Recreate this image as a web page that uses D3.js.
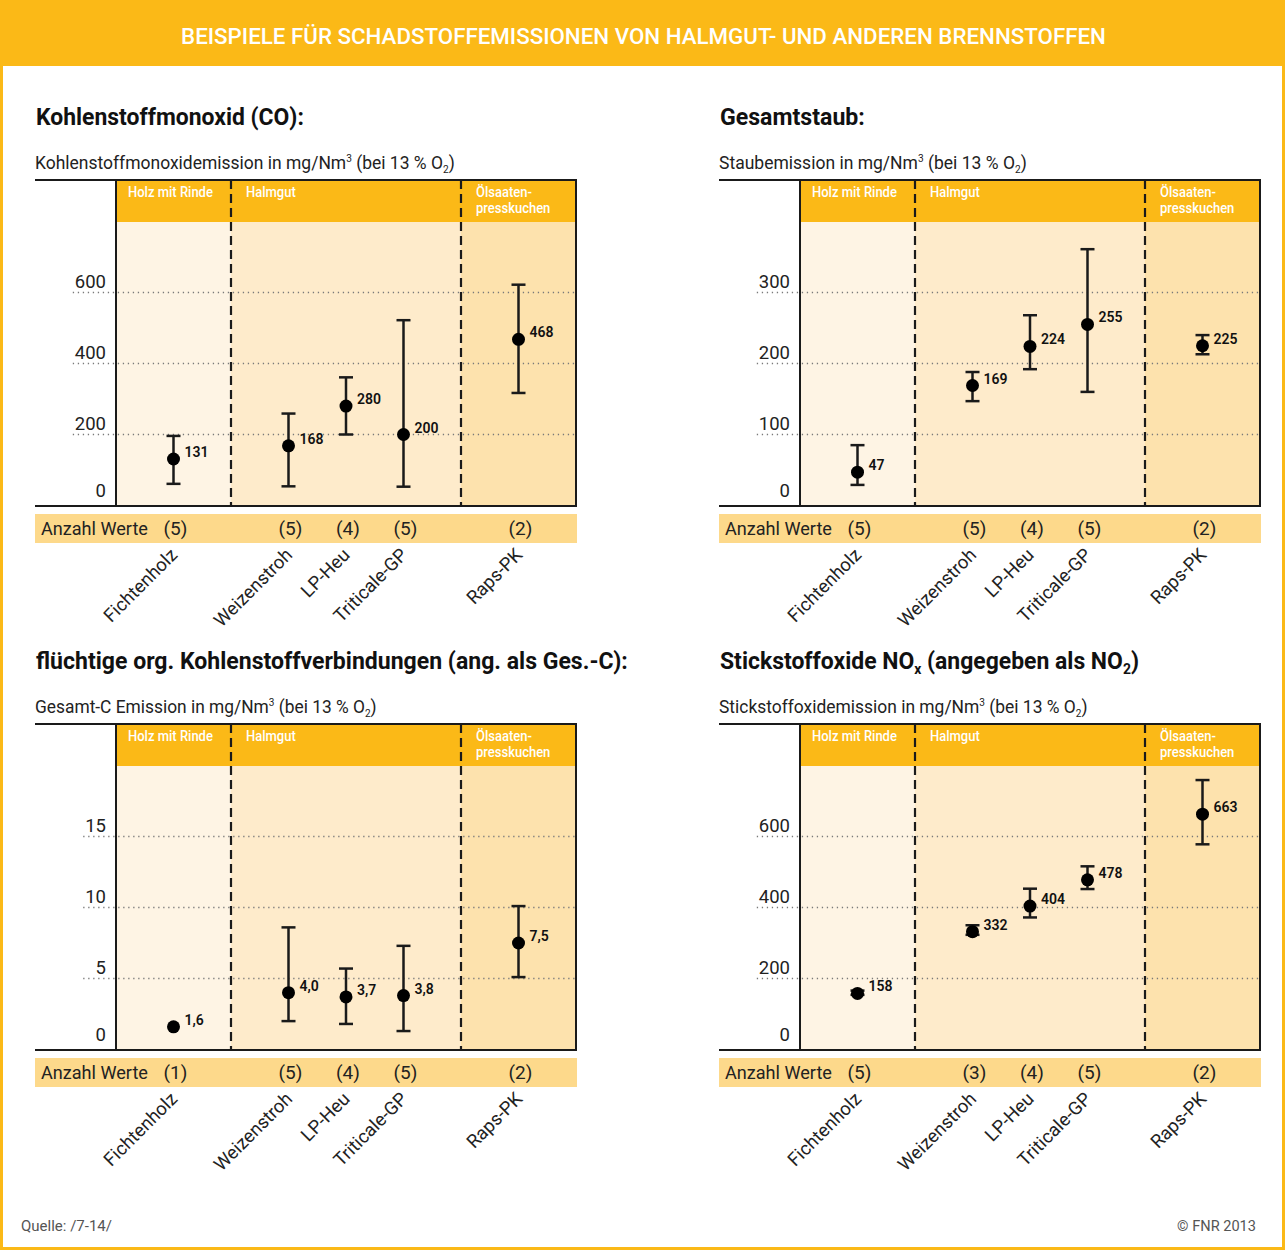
<!DOCTYPE html>
<html><head><meta charset="utf-8">
<script src="https://cdn.jsdelivr.net/npm/d3@7/dist/d3.min.js"></script>
<style>
html,body{margin:0;padding:0;background:#fff}
svg{display:block;font-family:Roboto,"Open Sans",sans-serif}
</style></head>
<body>
<svg id="chart" width="1285" height="1250"></svg>
<script>
// ---------- DATA ----------
const categories = ["Fichtenholz","Weizenstroh","LP-Heu","Triticale-GP","Raps-PK"];
const groupNames = [["Holz mit Rinde"],["Halmgut"],["Ölsaaten-","presskuchen"]];
const categoryGroup = [0,1,1,1,2];

const coMean = [131,168,280,200,468];
const coLow  = [61,54,200,53,317];
const coHigh = [196,259,361,522,622];
const coN    = [5,5,4,5,2];
const coTicks = [0,200,400,600];

const staubMean = [47,169,224,255,225];
const staubLow  = [29,147,192,160,213];
const staubHigh = [85,188,268,361,240];
const staubN    = [5,5,4,5,2];
const staubTicks = [0,100,200,300];

const gescMean = [1.6,4.0,3.7,3.8,7.5];
const gescLow  = [null,2.0,1.8,1.3,5.1];
const gescHigh = [null,8.6,5.7,7.3,10.1];
const gescN    = [1,5,4,5,2];
const gescTicks = [0,5,10,15];

const noxMean = [158,332,404,478,663];
const noxLow  = [154,323,372,452,578];
const noxHigh = [166,350,453,516,759];
const noxN    = [5,3,4,5,2];
const noxTicks = [0,200,400,600];

const mainTitle = "BEISPIELE FÜR SCHADSTOFFEMISSIONEN VON HALMGUT- UND ANDEREN BRENNSTOFFEN";
const countLabel = "Anzahl Werte";
const sourceText = "Quelle: /7-14/";
const copyrightText = "© FNR 2013";

// ---------- STYLE / LAYOUT ----------
const C = {
  orange:"#FBB917", holz:"#FEF4E4", halm:"#FEEBCB", oel:"#FDE2AD", count:"#FDD98B",
  ink:"#1a1a1a", grid:"#7a7a7a", text:"#222"
};
const L = {frameL:35, plotL:116, plotR:576, frameR:577, top:180, headB:222, axisY:506,
           countTop:514, countH:29, titleY:125, subY:169};

const de = d3.formatLocale({decimal:",", thousands:".", grouping:[3], currency:["","€"]});
const fInt = de.format("d"), fDec = de.format(".1f");

const panels = [
  {dx:0, dy:0, max:800, mean:coMean, low:coLow, high:coHigh, n:coN, ticks:coTicks, fmt:fInt,
   title:[["Kohlenstoffmonoxid (CO):"]], titleW:268,
   sub:"Kohlenstoffmonoxidemission", subW:420},
  {dx:684, dy:0, max:400, mean:staubMean, low:staubLow, high:staubHigh, n:staubN, ticks:staubTicks, fmt:fInt,
   title:[["Gesamtstaub:"]], titleW:145,
   sub:"Staubemission", subW:308},
  {dx:0, dy:544, max:20, mean:gescMean, low:gescLow, high:gescHigh, n:gescN, ticks:gescTicks, fmt:fDec,
   title:[["flüchtige org. Kohlenstoffverbindungen (ang. als Ges.-C):"]], titleW:592,
   sub:"Gesamt-C Emission", subW:342},
  {dx:684, dy:544, max:800, mean:noxMean, low:noxLow, high:noxHigh, n:noxN, ticks:noxTicks, fmt:fInt,
   title:[["Stickstoffoxide NO"],["x","sub"],[" (angegeben als NO"],["2","sub"],[")"]], titleW:419,
   sub:"Stickstoffoxidemission", subW:369}
];

const svg = d3.select("#chart");

// helper: text in a group, optionally squeezed horizontally to a target width
function placeText(parent, x, y, anchor, parts, opts){
  const g = parent.append("g").attr("transform",`translate(${x},${y})`);
  const t = g.append("text").attr("text-anchor",anchor)
    .attr("font-size",opts.size).attr("font-weight",opts.weight||400).attr("fill",opts.fill||C.text);
  const base = opts.size, small = Math.round(opts.size*0.6);
  let shift = 0;
  parts.forEach(([s,kind])=>{
    const target = kind==="sup" ? -Math.round(base*0.38) : kind==="sub" ? Math.round(base*0.22) : 0;
    const ts = t.append("tspan").attr("dy", target - shift).text(s);
    if(kind) ts.attr("font-size", small);
    shift = target;
  });
  if(opts.width){
    const w = t.node().getBBox().width;
    if(w>0) g.attr("transform",`translate(${x},${y}) scale(${opts.width/w},1)`);
  }
  return g;
}

// ---------- PAGE FRAME ----------
svg.append("rect").attr("x",1.5).attr("y",1.5).attr("width",1282).attr("height",1247)
  .attr("fill","#fff").attr("stroke",C.orange).attr("stroke-width",3);
svg.append("rect").attr("x",0).attr("y",0).attr("width",1285).attr("height",66).attr("fill",C.orange);
placeText(svg, 643.5, 44, "middle", [[mainTitle]], {size:22, weight:500, fill:"#fff", width:925});

placeText(svg, 21, 1231, "start", [[sourceText]], {size:15, fill:"#555", width:91});
placeText(svg, 1256, 1231, "end", [[copyrightText]], {size:15, fill:"#555", width:79});

// ---------- PANELS ----------
// slot positions from group membership: each group spans (members+1) units
const groupSpan = groupNames.map((_,g)=>categoryGroup.filter(c=>c===g).length+1);
const groupStart = groupSpan.map((_,g)=>d3.sum(groupSpan.slice(0,g)));
const slot = categories.map((_,i)=>{
  const g = categoryGroup[i];
  const idx = categoryGroup.slice(0,i).filter(c=>c===g).length;
  return groupStart[g] + idx + 1;
});
const totalUnits = d3.sum(groupSpan);
const bgColors = [C.holz, C.halm, C.oel];

panels.forEach(p=>{
  const g = svg.append("g").attr("transform",`translate(${p.dx},${p.dy})`);
  const x = d3.scaleLinear().domain([0,totalUnits]).range([L.plotL,L.plotR]);
  const y = d3.scaleLinear().domain([0,p.max]).range([L.axisY-0.5, L.headB-0.5]);

  // titles
  placeText(g, 36, L.titleY, "start", p.title.map(d=>d[1]==="sub"?[d[0],"sub"]:[d[0]]), {size:23, weight:700, fill:"#111", width:p.titleW});
  placeText(g, 35, L.subY, "start",
    [[p.sub+" in mg/Nm"],["3","sup"],[" (bei 13 % O"],["2","sub"],[")"]],
    {size:19, fill:"#222", width:p.subW});

  // backgrounds
  groupSpan.forEach((s,gi)=>{
    g.append("rect").attr("x",x(groupStart[gi])).attr("y",L.headB)
      .attr("width",x(groupStart[gi]+s)-x(groupStart[gi])).attr("height",L.axisY-L.headB)
      .attr("fill",bgColors[gi]);
  });
  g.append("rect").attr("x",L.plotL).attr("y",L.top).attr("width",L.plotR-L.plotL)
    .attr("height",L.headB-L.top).attr("fill",C.orange);
  let headScale = null;
  groupNames.forEach((lines,gi)=>{
    const tx = x(groupStart[gi]) + (gi===0?12:15);
    const hg = g.append("g");
    const t = hg.append("text").attr("x",0).attr("y",L.top+17).attr("font-size",15.5)
      .attr("font-weight",500).attr("fill","#fff");
    lines.forEach((ln,k)=>t.append("tspan").attr("x",0).attr("dy",k?16:0).text(ln));
    if(headScale===null) headScale = 85 / t.node().getBBox().width;
    hg.attr("transform",`translate(${tx},0) scale(${headScale},1)`);
  });

  // y tick labels
  const tickG = g.append("g");
  p.ticks.forEach(t=>{
    tickG.append("text").attr("x",L.plotL-10).attr("y",y(t)-(t===0?9:5))
      .attr("text-anchor","end").attr("font-size",18.5).attr("fill","#222").text(fInt(t));
  });
  const labW = d3.max(tickG.selectAll("text").nodes(), n=>n.getComputedTextLength());
  // gridlines
  p.ticks.filter(t=>t>0).forEach(t=>{
    g.append("line").attr("x1",L.plotL-10-labW-2).attr("x2",L.plotR)
      .attr("y1",y(t)).attr("y2",y(t)).attr("stroke",C.grid).attr("stroke-width",1.3)
      .attr("stroke-dasharray","1.3,3.7");
  });
  // group separators (dashed)
  groupStart.slice(1).forEach(s=>{
    g.append("line").attr("x1",x(s)).attr("x2",x(s)).attr("y1",L.top).attr("y2",L.axisY)
      .attr("stroke",C.ink).attr("stroke-width",2.2).attr("stroke-dasharray","9,5");
  });
  // frame
  g.append("line").attr("x1",L.frameL).attr("x2",L.frameR).attr("y1",L.top).attr("y2",L.top)
    .attr("stroke",C.ink).attr("stroke-width",2);
  g.append("line").attr("x1",L.frameL).attr("x2",L.frameR).attr("y1",L.axisY).attr("y2",L.axisY)
    .attr("stroke",C.ink).attr("stroke-width",2);
  g.append("line").attr("x1",L.plotL).attr("x2",L.plotL).attr("y1",L.top).attr("y2",L.axisY)
    .attr("stroke",C.ink).attr("stroke-width",2);
  g.append("line").attr("x1",L.plotR).attr("x2",L.plotR).attr("y1",L.top).attr("y2",L.axisY)
    .attr("stroke",C.ink).attr("stroke-width",2);

  // error bars + points
  categories.forEach((c,i)=>{
    const cx = x(slot[i]);
    if(p.low[i]!=null && p.high[i]!=null){
      g.append("line").attr("x1",cx).attr("x2",cx).attr("y1",y(p.low[i])).attr("y2",y(p.high[i]))
        .attr("stroke",C.ink).attr("stroke-width",2.5);
      [p.low[i],p.high[i]].forEach(v=>{
        g.append("line").attr("x1",cx-7).attr("x2",cx+7).attr("y1",y(v)).attr("y2",y(v))
          .attr("stroke",C.ink).attr("stroke-width",2.5);
      });
    }
    g.append("circle").attr("cx",cx).attr("cy",y(p.mean[i])).attr("r",6.5).attr("fill","#000");
    g.append("text").attr("x",cx+11).attr("y",y(p.mean[i])-2).attr("font-size",14)
      .attr("font-weight",600).attr("fill","#111").text(p.fmt(p.mean[i]));
  });

  // count band
  g.append("rect").attr("x",L.frameL).attr("y",L.countTop).attr("width",L.frameR-L.frameL)
    .attr("height",L.countH).attr("fill",C.count);
  placeText(g, 41, L.countTop+21, "start", [[countLabel]], {size:19, fill:"#222", width:107});
  categories.forEach((c,i)=>{
    g.append("text").attr("x",x(slot[i])+2).attr("y",L.countTop+21).attr("text-anchor","middle")
      .attr("font-size",19).attr("fill","#222").text(`(${p.n[i]})`);
  });
  // category labels
  categories.forEach((c,i)=>{
    const cx = x(slot[i])+5, cy = L.axisY+50;
    g.append("text").attr("transform",`translate(${cx},${cy}) rotate(-45)`)
      .attr("text-anchor","end").attr("font-size",18.5).attr("fill","#222").text(c);
  });
});
</script>
</body></html>
